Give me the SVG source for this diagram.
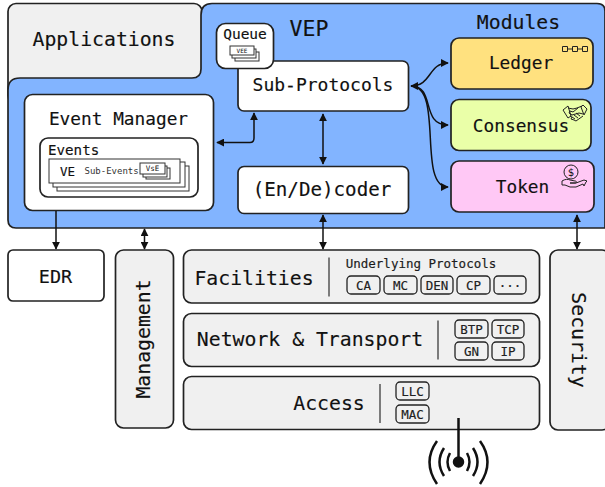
<svg xmlns="http://www.w3.org/2000/svg" width="605" height="487" viewBox="0 0 605 487">
<style>
text{font-family:"DejaVu Sans Mono","Liberation Mono",monospace;fill:#111;stroke:#111;stroke-width:.15}
.b{stroke:#222;stroke-width:1.7}
.w{fill:#fff}.g{fill:#f0f0f0}
.c{fill:none;stroke:#111;stroke-width:1.5}
.s{fill:#fff;stroke:#333;stroke-width:1}
.m{font-size:19.800px;text-anchor:middle}
.t{fill:none;stroke:#222;stroke-width:1}
.p{fill:none;stroke:#222;stroke-width:1.300}
.k{font-size:12.500px;text-anchor:middle;fill:#222}
</style>
<defs>
<marker id="a" viewBox="0 0 10 10" refX="9" refY="5" markerWidth="8" markerHeight="8" orient="auto-start-reverse" markerUnits="userSpaceOnUse"><path d="M0 0L10 5L0 10Z" fill="#111"/></marker>
</defs>
<g id="applications"><rect class="b g" x="8" y="3.500" width="194" height="100" rx="8"/><text x="104" y="46" class="m">Applications</text></g>
<g id="vep">
<path class="b" fill="#82b4ff" d="M212 3.500H597Q605 3.500 605 11V228H16Q8 228 8 220V90Q8 78 20 78H192Q201 78 201 69V15Q201 3.500 212 3.500Z"/>
<text x="309" y="36" class="m" style="font-size:21.500px">VEP</text>
<text x="518.500" y="29" class="m">Modules</text>
</g>
<g id="sub-protocols"><rect class="b w" x="238" y="61" width="170.500" height="50" rx="6"/><text x="323" y="91" class="m" style="font-size:18px">Sub-Protocols</text></g>
<g id="queue"><rect class="b w" x="216.500" y="23.500" width="57" height="45" rx="9"/><text x="245" y="39" class="m" style="font-size:14.500px">Queue</text>
<rect class="s" x="235" y="52" width="24" height="9"/><rect class="s" x="232" y="49" width="24" height="9"/><rect class="s" x="230" y="46" width="24" height="9"/><text x="242" y="53" text-anchor="middle" style="font-size:6px;stroke:none">VEE</text></g>
<g id="event-manager"><rect class="b w" x="24.500" y="94.500" width="189" height="116" rx="8"/><text x="118.500" y="125" class="m" style="font-size:17.800px">Event Manager</text>
<rect class="b w" x="40" y="138" width="158" height="59" rx="8"/><text x="48" y="155" style="font-size:14.200px">Events</text>
<rect class="s" x="57" y="166" width="132" height="25"/><rect class="s" x="53" y="162" width="132" height="25"/><rect class="s" x="49" y="159" width="131" height="24"/>
<text x="60" y="176" style="font-size:12.500px">VE</text><text x="84.500" y="174" style="font-size:9px;fill:#333;stroke:none">Sub-Events</text>
<rect class="s" x="146" y="168" width="24" height="11"/><rect class="s" x="143" y="166" width="24" height="11"/><rect class="s" x="140" y="163" width="25" height="11"/><text x="152.500" y="171" text-anchor="middle" style="font-size:7.500px;stroke:none">VsE</text></g>
<g id="encoder"><rect class="b w" x="238" y="166.500" width="170.500" height="47" rx="6"/><text x="322" y="196" class="m" style="font-size:19.200px">(En/De)coder</text></g>
<g id="ledger"><rect class="b" fill="#ffe17f" x="451" y="38" width="142" height="51" rx="8"/><text x="521" y="69" class="m" style="font-size:17.800px">Ledger</text>
<path class="t" d="M562.500 46.500h5v5h-5zM572.500 46.500h5v5h-5zM582.500 46.500h5v5h-5zM567.500 49h5M577.500 49h5"/></g>
<g id="consensus"><rect class="b" fill="#eaffa8" x="451" y="99.500" width="140" height="51" rx="8"/><text x="521" y="132" class="m" style="font-size:17.800px">Consensus</text>
<path class="t" d="M563 110l5-4 3 10-3 2zM587 109l-4-4-2 2 3 8zM568 108l5 1 4-1 5-2M578 108l-5 4-3-1-1 2 3 2 7-2 4 1M570 116l2 1-1 2 3 1 2 1 7-5M572 117l3 2M574 115l4 3M576 113l4 3"/></g>
<g id="token"><rect class="b" fill="#ffc8f5" x="451" y="161" width="143" height="51" rx="8"/><text x="522.500" y="193" class="m" style="font-size:17.800px">Token</text>
<circle class="t" cx="571" cy="172" r="7"/><text x="571" y="176" text-anchor="middle" style="font-size:10.500px;stroke:none">$</text>
<path class="t" d="M562 181c3-2 6-2 8-1l5 1c2 0 2 2 0 2h-5l6 0 8-3 3 1-1 1-2 4-1-2-7 3h-6l-5-2-3 0z"/></g>
<g id="edr"><rect class="b w" x="8" y="250" width="96" height="51" rx="5"/><text x="55.500" y="283" class="m" style="font-size:18.500px">EDR</text></g>
<g id="management"><rect class="b g" x="115.500" y="250" width="58" height="178" rx="8"/><text transform="translate(150 339) rotate(-90)" class="m">Management</text></g>
<g id="facilities"><rect class="b g" x="183.500" y="250" width="356" height="53" rx="8"/><text x="254" y="285" class="m">Facilities</text>
<path d="M329 257.500V296.500" stroke="#555" stroke-width="1.500"/>
<text x="421" y="268" text-anchor="middle" style="font-size:12.500px;fill:#222">Underlying Protocols</text>
<g class="p"><rect class="p" x="347" y="276" width="33" height="18" rx="4"/><rect class="p" x="384" y="276" width="33" height="18" rx="4"/><rect class="p" x="421" y="276" width="32" height="18" rx="4"/><rect class="p" x="457" y="276" width="33" height="18" rx="4"/><rect class="p" x="494" y="276" width="32" height="18" rx="4"/></g>
<text x="363.500" y="290" class="k">CA</text><text x="400.500" y="290" class="k">MC</text><text x="437" y="290" class="k">DEN</text><text x="473.500" y="290" class="k">CP</text><text x="510" y="290" class="k">···</text></g>
<g id="network-transport"><rect class="b g" x="183.500" y="313.500" width="356" height="53" rx="8"/><text x="310" y="346" class="m">Network &amp; Transport</text>
<path d="M438 320.500V359.500" stroke="#555" stroke-width="1.500"/>
<rect class="p" x="455" y="320" width="33" height="18" rx="4"/><rect class="p" x="492" y="320" width="32" height="18" rx="4"/><rect class="p" x="455" y="342" width="33" height="18" rx="4"/><rect class="p" x="492" y="342" width="32" height="18" rx="4"/>
<text x="471.500" y="334" class="k">BTP</text><text x="508" y="334" class="k">TCP</text><text x="471.500" y="356" class="k">GN</text><text x="508" y="356" class="k">IP</text></g>
<g id="access"><rect class="b g" x="183.500" y="376.500" width="356" height="53" rx="8"/><text x="329" y="410" class="m">Access</text>
<path d="M380 384V423" stroke="#555" stroke-width="1.500"/>
<rect class="p" x="396" y="382" width="33" height="18" rx="4"/><rect class="p" x="396" y="405" width="33" height="18" rx="4"/>
<text x="412.500" y="396" class="k">LLC</text><text x="412.500" y="419" class="k">MAC</text></g>
<g id="security"><rect class="b g" x="550" y="250" width="60" height="180" rx="8"/><text transform="translate(572 340) rotate(90)" class="m">Security</text></g>
<g id="antenna" fill="none" stroke="#111" stroke-width="2.500"><path d="M458.500 418V462"/><circle cx="458.500" cy="462" r="4.500" fill="#111"/>
<path d="M450 453Q445 462 450 471M467 453Q472 462 467 471M444 448Q435 462 444 476M473 448Q482 462 473 476M437 441Q422 462 437 484M480 441Q495 462 480 484"/></g>
<g id="connectors">
<path class="c" marker-start="url(#a)" marker-end="url(#a)" d="M217 142.500H250Q254 142.500 254 138V113"/>
<path class="c" marker-start="url(#a)" marker-end="url(#a)" d="M323 114V164"/>
<path class="c" marker-start="url(#a)" marker-end="url(#a)" d="M411 86C432 86 428 63 448 63"/>
<path class="c" marker-end="url(#a)" d="M411 86C436 86 420 125 448 125"/>
<path class="c" marker-end="url(#a)" d="M411 86C444 86 417 187 448 187"/>
<path class="c" marker-end="url(#a)" d="M56 211V249"/>
<path class="c" marker-start="url(#a)" marker-end="url(#a)" d="M144.500 229V249"/>
<path class="c" marker-start="url(#a)" marker-end="url(#a)" d="M323 215V249"/>
<path class="c" marker-start="url(#a)" marker-end="url(#a)" d="M577 215V249"/>
</g>
</svg>
